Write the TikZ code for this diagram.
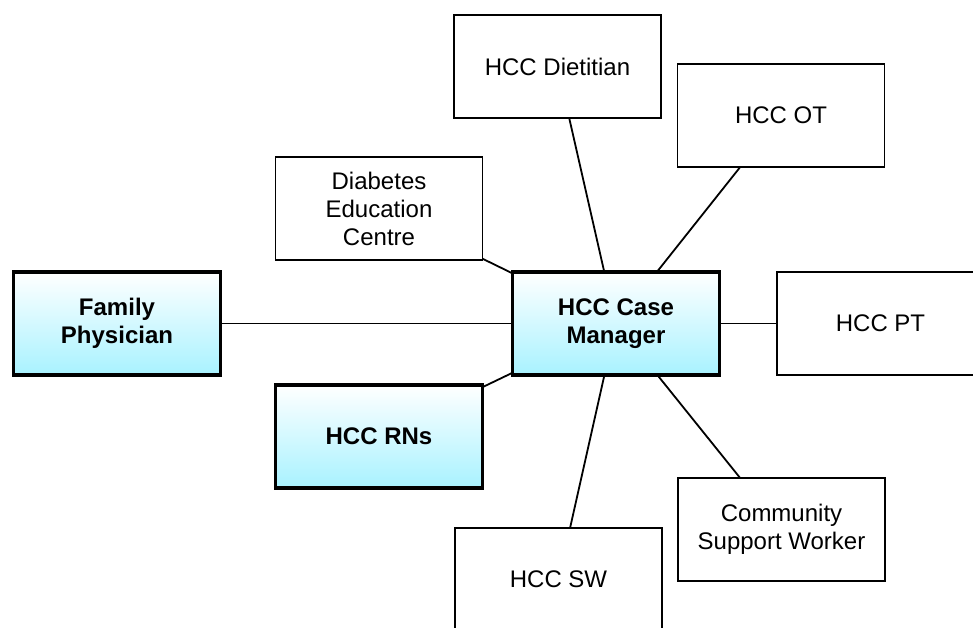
\documentclass[tikz,border=0pt]{standalone}
\usepackage{fontspec}
\setmainfont{Liberation Sans}
\usepackage{xcolor}
\usepackage{tikz}
\usetikzlibrary{positioning}
\definecolor{leadcyan}{RGB}{168,242,255}

\begin{document}
\begin{tikzpicture}[
        x=1pt, y=-1pt,
        font=\fontsize{24}{28}\selectfont,
        role/.style={rectangle, draw, line width=1.8pt, outer sep=0pt, minimum width=207pt, minimum height=103pt, align=center, fill=white},
        lead/.style={rectangle, draw, line width=3.6pt, outer sep=0pt, minimum width=207pt, minimum height=103pt, align=center, top color=white, bottom color=leadcyan, font=\fontsize{24}{28}\selectfont\bfseries},
        tie/.style={line width=1.8pt}
    ]
    \useasboundingbox (0,0) rectangle (973,628);
    \clip (0,0) rectangle (973,628);

    % Case manager in the middle
    \node[lead] (cm) at (616,323.5) {HCC Case\\Manager};

    % Left side
    \node[lead, left=292pt of cm] (fp) {Family\\Physician};
    \node[role, above left=12pt and 30pt of cm] (dec) {Diabetes\\Education\\Centre};
    \node[lead, below left=10pt and 30pt of cm] (rns) {HCC RNs};

    % Top and right side
    \node[role, above=154pt of cm, xshift=-58.5pt] (diet) {HCC Dietitian};
    \node[role, above=105pt of cm, xshift=165pt] (ot) {HCC OT};
    \node[role, right=57.5pt of cm] (pt) {HCC PT};

    % Bottom
    \node[role, below=103pt of cm, xshift=165.5pt] (csw) {Community\\Support Worker};
    \node[role, below=153pt of cm, xshift=-57.5pt] (sw) {HCC SW};

    % Links to the case manager
    \draw[tie] (fp) -- (cm);
    \draw[tie] (dec) -- (cm);
    \draw[tie] (rns) -- (cm);
    \draw[tie] (diet) -- (cm);
    \draw[tie] (ot) -- (cm);
    \draw[tie] (pt) -- (cm);
    \draw[tie] (csw) -- (cm);
    \draw[tie] (sw) -- (cm);

\end{tikzpicture}
\end{document}
